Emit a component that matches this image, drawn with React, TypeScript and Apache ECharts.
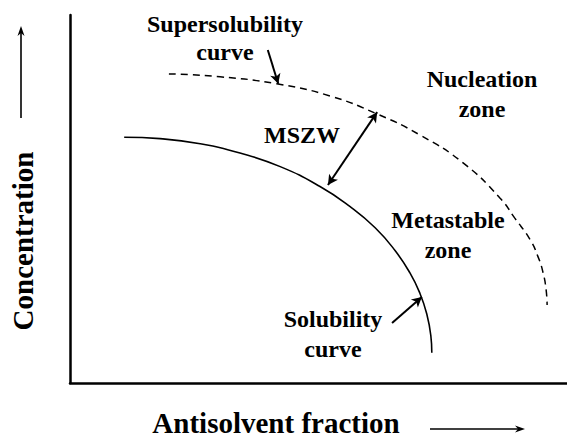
import React, { useEffect, useRef } from "react";
import * as echarts from "echarts";

// Solubility curve (solid), axis units 0..100
const solubilityX = [10.9, 18.1, 26.2, 34.2, 42.3, 50.3, 56.3, 61.4, 65.4, 68.4, 70.4, 71.8, 72.6, 72.8];
const solubilityY = [66.8, 66.4, 65.0, 62.5, 58.8, 53.4, 48.0, 42.2, 36.0, 29.9, 24.4, 18.7, 12.9, 8.2];

// Supersolubility curve (dashed)
const supersolubilityX = [19.9, 30.2, 41.6, 52.3, 61.8, 70.4, 79.1, 86.5, 89.5, 92.6, 94.2, 95.2, 95.8, 96.0];
const supersolubilityY = [84.0, 83.2, 81.3, 78.0, 73.1, 67.4, 59.8, 50.3, 44.8, 38.9, 34.2, 29.9, 25.3, 21.2];

// Annotation arrows (from -> to), in axis units
const superArrow = [[39.8, 90.5], [41.9, 81.3]];
const mszwArrow = [[61.8, 73.6], [51.9, 53.8]];
const solArrow = [[64.8, 16.3], [70.8, 23.4]];

const FONT = "'Liberation Serif', 'Times New Roman', serif";

function label(text: string, x: number, y: number, size = 24, rotation = 0) {
  return {
    type: "text",
    x,
    y,
    rotation,
    style: {
      text,
      fill: "#000",
      font: `bold ${size}px ${FONT}`,
      textAlign: "center",
      textVerticalAlign: "middle",
    },
    silent: true,
  };
}

export default function App() {
  const ref = useRef<HTMLDivElement>(null);
  useEffect(() => {
    if (!ref.current) return;
    const chart = echarts.init(ref.current, undefined, { renderer: "svg" });
    const pair = (xs: number[], ys: number[]) => xs.map((x, i) => [x, ys[i]]);
    const arrowLine = (a: number[][], both: boolean) => [
      { coord: a[0], symbol: both ? "arrow" : "none" },
      { coord: a[1], symbol: "arrow" },
    ];
    chart.setOption({
      animation: false,
      grid: { left: 70, right: 0, top: 15, bottom: 56 },
      xAxis: {
        type: "value",
        min: 0,
        max: 100,
        axisLine: { show: true, onZero: false, lineStyle: { color: "#000", width: 2.5 } },
        axisTick: { show: false },
        axisLabel: { show: false },
        splitLine: { show: false },
      },
      yAxis: {
        type: "value",
        min: 0,
        max: 100,
        axisLine: { show: true, onZero: false, lineStyle: { color: "#000", width: 2.5 } },
        axisTick: { show: false },
        axisLabel: { show: false },
        splitLine: { show: false },
      },
      series: [
        {
          name: "Solubility curve",
          type: "line",
          data: pair(solubilityX, solubilityY),
          smooth: 0.5,
          showSymbol: false,
          lineStyle: { color: "#000", width: 1.6 },
          markLine: {
            silent: true,
            symbolSize: [8, 10],
            lineStyle: { color: "#000", width: 2, type: "solid" },
            label: { show: false },
            data: [arrowLine(solArrow, false), arrowLine(mszwArrow, true)],
          },
        },
        {
          name: "Supersolubility curve",
          type: "line",
          data: pair(supersolubilityX, supersolubilityY),
          smooth: 0.5,
          showSymbol: false,
          lineStyle: { color: "#000", width: 1.5, type: [7, 5] },
          markLine: {
            silent: true,
            symbolSize: [8, 10],
            lineStyle: { color: "#000", width: 2, type: "solid" },
            label: { show: false },
            data: [arrowLine(superArrow, false)],
          },
        },
      ],
      graphic: [
        label("Supersolubility", 225, 24),
        label("curve", 225, 52),
        label("Nucleation", 482, 79),
        label("zone", 482, 109),
        label("MSZW", 302, 135),
        label("Metastable", 448, 220),
        label("zone", 448, 250),
        label("Solubility", 333, 319),
        label("curve", 333, 349),
        label("Concentration", 23, 241, 29, Math.PI / 2),
        label("Antisolvent fraction", 276, 423, 29),
        {
          type: "line",
          shape: { x1: 21, y1: 118, x2: 21, y2: 32 },
          style: { stroke: "#000", lineWidth: 1.6 },
        },
        {
          type: "polygon",
          shape: { points: [[21, 26], [17.5, 36], [21, 33], [24.5, 36]] },
          style: { fill: "#000" },
        },
        {
          type: "line",
          shape: { x1: 430, y1: 429, x2: 518, y2: 429 },
          style: { stroke: "#000", lineWidth: 1.6 },
        },
        {
          type: "polygon",
          shape: { points: [[525, 429], [515, 425.5], [518, 429], [515, 432.5]] },
          style: { fill: "#000" },
        },
      ],
    });
    return () => chart.dispose();
  }, []);
  return <div ref={ref} style={{ width: 567, height: 439, position: "absolute", left: 0, top: 0 }} />;
}
